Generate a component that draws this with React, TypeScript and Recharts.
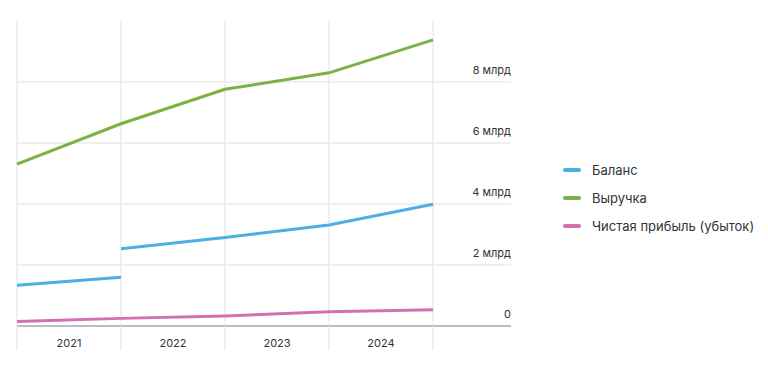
import { LineChart, Line, XAxis, YAxis, CartesianGrid } from "recharts";

// x positions are year boundaries: 0 = start of 2021 ... 4 = end of 2024
const years = ["2021", "2022", "2023", "2024"];
const yearEdges = [0, 1, 2, 3, 4];
const yTicks = [0, 2, 4, 6, 8];

// values in billions (млрд)
const balanceBefore = [1.34, 1.6]; // edges 0..1
const balanceAfter = [2.53, 2.9, 3.31, 3.99]; // edges 1..4
const revenue = [5.31, 6.63, 7.76, 8.3, 9.38];
const profit = [0.15, 0.25, 0.33, 0.47, 0.53];

const COLORS = {
  balance: "#4caee2",
  revenue: "#7ab344",
  profit: "#d46fb2",
};

const legendItems = [
  { name: "Баланс", color: COLORS.balance },
  { name: "Выручка", color: COLORS.revenue },
  { name: "Чистая прибыль (убыток)", color: COLORS.profit },
];

const CHART_W = 752;
const CHART_H = 357;
const Y_AXIS_W = 10;
const MARGIN = { top: 13, right: 249 - Y_AXIS_W, bottom: 9, left: 9 };
const X_MAX = 4.75;
const Y_MAX = 10;
const X_STEP = (CHART_W - MARGIN.left - MARGIN.right - Y_AXIS_W) / X_MAX;
const FONT = "Inter, 'Noto Sans', sans-serif";

const balanceData = [
  ...balanceBefore.map((v, i) => ({ x: yearEdges[i], v })),
  { x: yearEdges[1], v: null },
  ...balanceAfter.map((v, i) => ({ x: yearEdges[i + 1], v })),
];
const revenueData = revenue.map((v, i) => ({ x: yearEdges[i], v }));
const profitData = profit.map((v, i) => ({ x: yearEdges[i], v }));

function YearTick(props: any) {
  const { x, y, index } = props;
  return (
    <g>
      <line x1={x} y1={y} x2={x} y2={y + 24} stroke="#ebebeb" strokeWidth={1.5} />
      {index < years.length && (
        <text
          x={x + X_STEP / 2}
          y={y + 18}
          textAnchor="middle"
          dominantBaseline="middle"
          fontSize={11}
          fill="#333"
          fontFamily={FONT}
        >
          {years[index]}
        </text>
      )}
    </g>
  );
}

function ValueTick(props: any) {
  const { x, y, payload } = props;
  const label = payload.value === 0 ? "0" : `${payload.value} млрд`;
  return (
    <text
      x={x}
      y={y - 11}
      textAnchor="end"
      dominantBaseline="middle"
      fontSize={11}
      fill="#333"
      fontFamily={FONT}
    >
      {label}
    </text>
  );
}

export default function App() {
  return (
    <div style={{ position: "relative", width: CHART_W, height: CHART_H, fontFamily: FONT }}>
      <LineChart width={CHART_W} height={CHART_H} margin={MARGIN}>
        <CartesianGrid
          stroke="#ebebeb"
          strokeWidth={1.5}
          horizontalCoordinatesGenerator={({ offset }: any) =>
            yTicks.map((t) => offset.top + offset.height * (1 - t / Y_MAX))
          }
          verticalCoordinatesGenerator={({ offset }: any) =>
            yearEdges.map((t) => offset.left + (offset.width * t) / X_MAX)
          }
        />
        <XAxis
          type="number"
          dataKey="x"
          domain={[0, X_MAX]}
          ticks={yearEdges}
          interval={0}
          height={30}
          tickLine={false}
          tickSize={0}
          tickMargin={0}
          axisLine={{ stroke: "#8a8a8a", strokeWidth: 1.2 }}
          tick={<YearTick />}
        />
        <YAxis
          orientation="right"
          width={Y_AXIS_W}
          domain={[0, Y_MAX]}
          ticks={yTicks}
          interval={0}
          axisLine={false}
          tickLine={false}
          tickSize={0}
          tickMargin={0}
          tick={<ValueTick />}
        />
        <Line
          data={balanceData}
          dataKey="v"
          stroke={COLORS.balance}
          strokeWidth={3}
          dot={false}
          connectNulls={false}
          isAnimationActive={false}
          name="Баланс"
        />
        <Line
          data={revenueData}
          dataKey="v"
          stroke={COLORS.revenue}
          strokeWidth={3}
          dot={false}
          isAnimationActive={false}
          name="Выручка"
        />
        <Line
          data={profitData}
          dataKey="v"
          stroke={COLORS.profit}
          strokeWidth={3}
          dot={false}
          isAnimationActive={false}
          name="Чистая прибыль (убыток)"
        />
      </LineChart>
      <div style={{ position: "absolute", left: 555, top: 148 }}>
        {legendItems.map((item) => (
          <div
            key={item.name}
            style={{ display: "flex", alignItems: "center", height: 28, fontSize: 13, color: "#333" }}
          >
            <span
              style={{
                display: "inline-block",
                width: 18,
                height: 4,
                borderRadius: 2,
                background: item.color,
                marginRight: 11,
              }}
            />
            {item.name}
          </div>
        ))}
      </div>
    </div>
  );
}
